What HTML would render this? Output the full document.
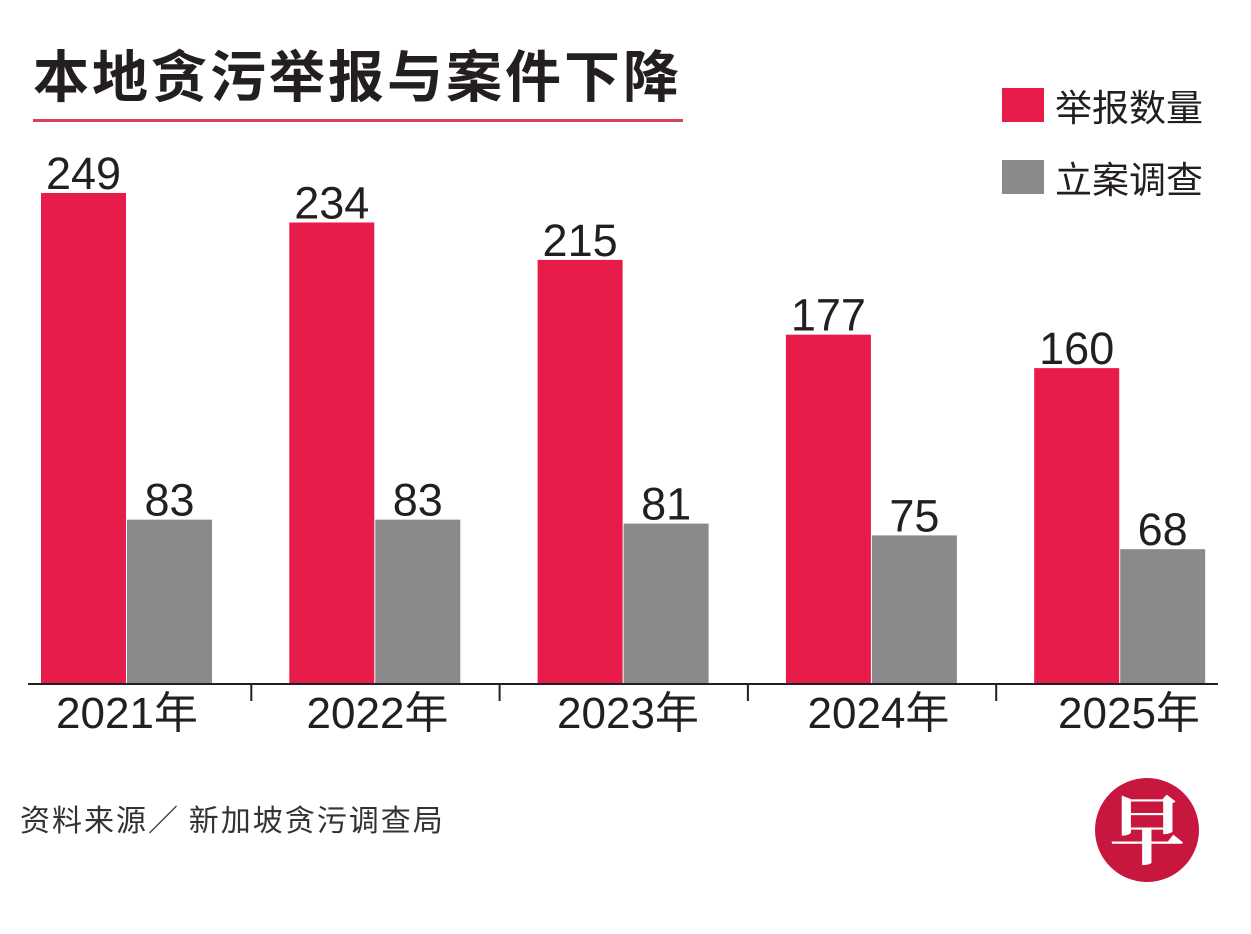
<!DOCTYPE html>
<html><head><meta charset="utf-8">
<style>
body{margin:0;background:#fff;}
#c{position:relative;width:1251px;height:934px;overflow:hidden;font-family:"Liberation Sans","Noto Sans CJK SC",sans-serif;}
</style></head>
<body>
<div id="c">
<svg id="s" width="1251" height="934" xmlns="http://www.w3.org/2000/svg">
<text x="33" y="97" font-size="56" font-weight="bold" letter-spacing="3" fill="#231f20" font-family="Noto Sans CJK SC, sans-serif">本地贪污举报与案件下降</text>
<rect x="33" y="119" width="650" height="3" fill="#d6415e"/>
<rect x="1002" y="88" width="42" height="34" fill="#e81c4a"/>
<text x="1055" y="121" font-size="37" fill="#231f20" font-family="Noto Sans CJK SC, sans-serif">举报数量</text>
<rect x="1002" y="160" width="42" height="34" fill="#8a8a8d"/>
<text x="1055" y="193" font-size="37" fill="#231f20" font-family="Noto Sans CJK SC, sans-serif">立案调查</text>
<g id="bars"></g>
<text x="20" y="831" font-size="30" letter-spacing="2" fill="#333" font-family="Noto Sans CJK SC, sans-serif">资料来源／ 新加坡贪污调查局</text>
<circle cx="1147" cy="830" r="52" fill="#c8173f"/>
<text x="1147" y="858" font-size="76" fill="#fff" text-anchor="middle" font-family="Noto Serif CJK SC, serif" font-weight="bold">早</text>
</svg>
</div>
<script>
const years = ["2021年","2022年","2023年","2024年","2025年"];
const reports = [249,234,215,177,160];
const cases = [83,83,81,75,68];
const NS="http://www.w3.org/2000/svg";
const base=683, k=1.968, x0=41, step=248.3, bw=85;
const yS=v=>base-v*k;
const g=document.getElementById('bars');
function mk(tag,attrs){const e=document.createElementNS(NS,tag);for(const a in attrs)e.setAttribute(a,attrs[a]);g.appendChild(e);return e;}
years.forEach((yr,i)=>{
  const xr=x0+i*step, xg=xr+bw+1;
  const r=mk('rect',{x:xr,y:yS(reports[i]),width:bw,height:base-yS(reports[i]),fill:'#e81c4a'});
  
  
  const gr=mk('rect',{x:xg,y:yS(cases[i]),width:bw,height:base-yS(cases[i]),fill:'#8a8a8d'});
  
  
  const t1=mk('text',{x:xr+bw/2,y:yS(reports[i])-4,'font-size':45,'text-anchor':'middle',fill:'#231f20'});
  t1.textContent=reports[i];
  
  
  const t2=mk('text',{x:xg+bw/2,y:yS(cases[i])-4,'font-size':45,'text-anchor':'middle',fill:'#231f20'});
  t2.textContent=cases[i];
  
  
  const yl=mk('text',{x:xr+bw+1+i*2.2,y:728,'font-size':44,'text-anchor':'middle',fill:'#231f20'});
  yl.textContent=yr;
  
  
  if(i>0){
    const tk=mk('line',{x1:xr-38,x2:xr-38,y1:base,y2:701,stroke:'#231f20','stroke-width':2});
    
    
  }
});
const ax=mk('line',{x1:28,x2:1218,y1:base+1,y2:base+1,stroke:'#231f20','stroke-width':2});


</script>
</body></html>
